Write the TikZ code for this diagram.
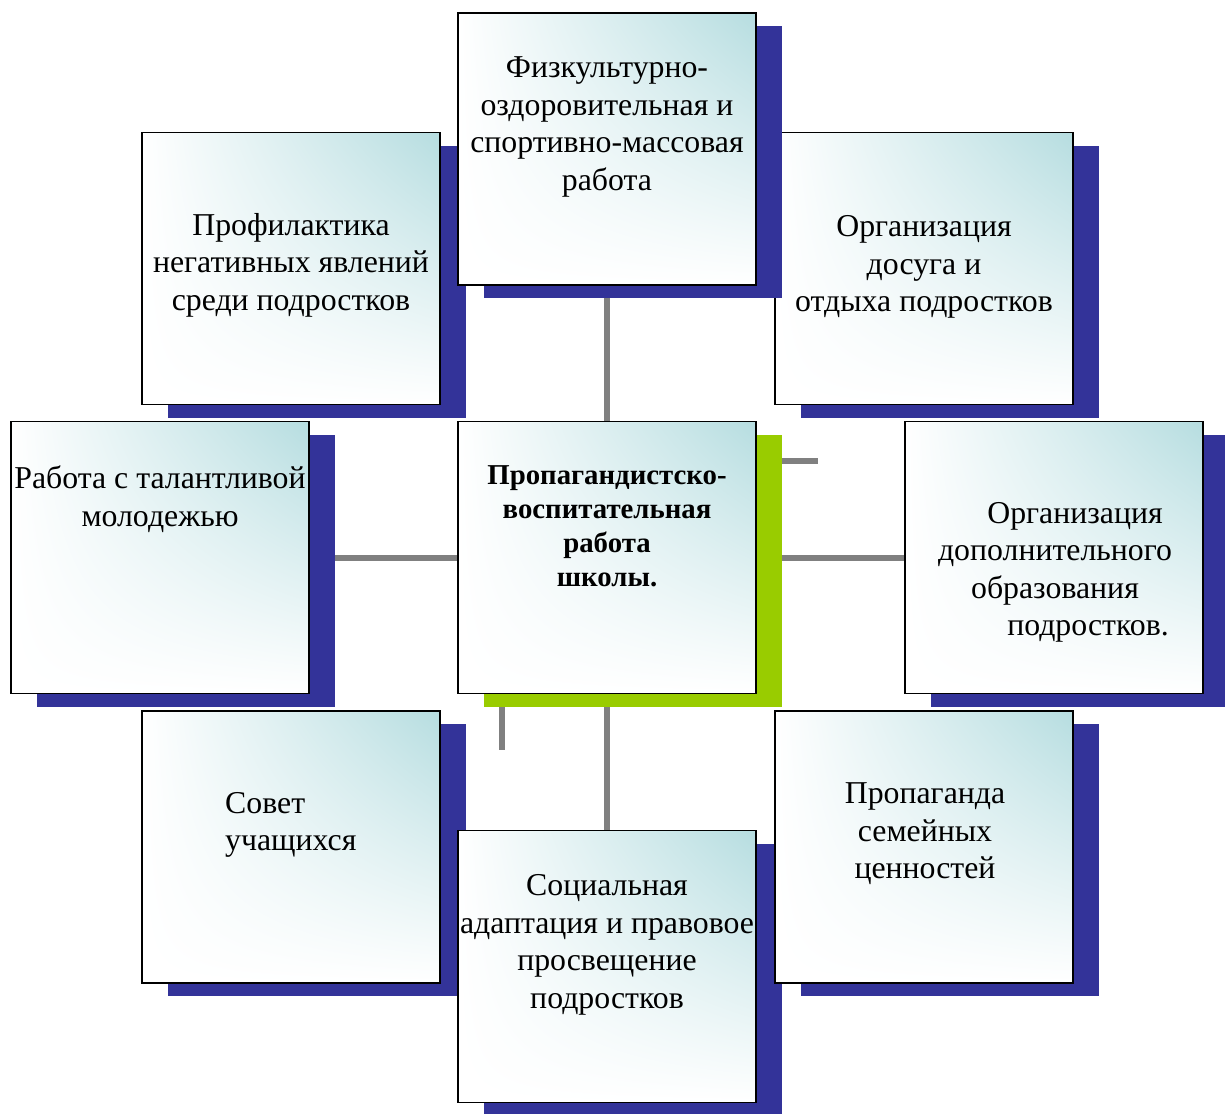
\documentclass[tikz,border=0pt]{standalone}
\usepackage{fontspec}
\setmainfont{Liberation Serif}
\usetikzlibrary{shadows,backgrounds,shadings}
\definecolor{navyshadow}{RGB}{51,51,153}
\definecolor{limeshadow}{RGB}{153,204,0}
\definecolor{tealc}{RGB}{182,221,224}
\definecolor{conn}{RGB}{128,128,128}
\begin{document}
\begin{tikzpicture}[x=1pt,y=-1pt,
  basebox/.style={draw=black, line width=1.8pt, minimum width=298pt, minimum height=272pt,
    inner sep=0pt, outer sep=0pt, upper left=white, upper right=tealc,
    lower left=white, lower right=white},
  box/.style={basebox, drop shadow={shadow xshift=26pt, shadow yshift=-13pt, fill=navyshadow, opacity=1}},
  cbox/.style={basebox, drop shadow={shadow xshift=26pt, shadow yshift=-13pt, fill=limeshadow, opacity=1}},
  txt/.style={align=center, font=\fontsize{31.8}{37.5}\selectfont, inner sep=0pt},
  ctxt/.style={align=center, font=\bfseries\fontsize{28.8}{34}\selectfont, inner sep=0pt},
  link/.style={draw=conn, line width=6pt}
]
\useasboundingbox (0,0) rectangle (1225,1113);

% boxes (drawing order matters for overlaps)
\node[box] (tl) at (291,268.5) {};
\node[box] (tr) at (924,268.5) {};
\node[box] (top) at (607,149) {};
\node[box] (lf) at (160,557.5) {};
\node[cbox] (ctr) at (607,557.5) {};
\node[box] (rt) at (1054,557.5) {};
\node[box] (bl) at (291,847) {};
\node[box] (bot) at (607,966.5) {};
\node[box] (br) at (924,847) {};

% texts
\node[txt] (ttop) at (607,127) {Физкультурно-\\оздоровительная и\\спортивно-массовая\\работа};
\node[txt] (ttl) at (291,265) {Профилактика\\негативных явлений\\среди подростков};
\node[txt] (ttr) at (924,267) {Организация\\досуга и\\отдыха подростков};
\node[txt] (tlf) at (160,499) {Работа с талантливой\\молодежью};
\node[ctxt] (tctr) at (607,526) {Пропагандистско-\\воспитательная\\работа\\школы.};
\node[txt] (trt) at (1055,572.5) {\hspace*{40pt}Организация\\дополнительного\\образования\\\hspace*{66pt}подростков.};
\node[txt, align=left, anchor=west] (tbl) at (225,825) {Совет\\учащихся};
\node[txt] (tbr) at (925,834) {Пропаганда\\семейных\\ценностей};
\node[txt] (tbot) at (607,945) {Социальная\\адаптация и правовое\\просвещение\\подростков};

% connectors
\coordinate (s1) at (818,461);
\coordinate (s2) at (502,750);
\begin{scope}[on background layer]
  \draw[link] (top) -- (ctr);
  \draw[link] (lf) -- (ctr);
  \draw[link] (ctr) -- (rt);
  \draw[link] (ctr) -- (bot);
  \draw[link] (ctr.east |- s1) -- (s1);
  \draw[link] (ctr.south -| s2) -- (s2);
\end{scope}
\end{tikzpicture}
\end{document}
